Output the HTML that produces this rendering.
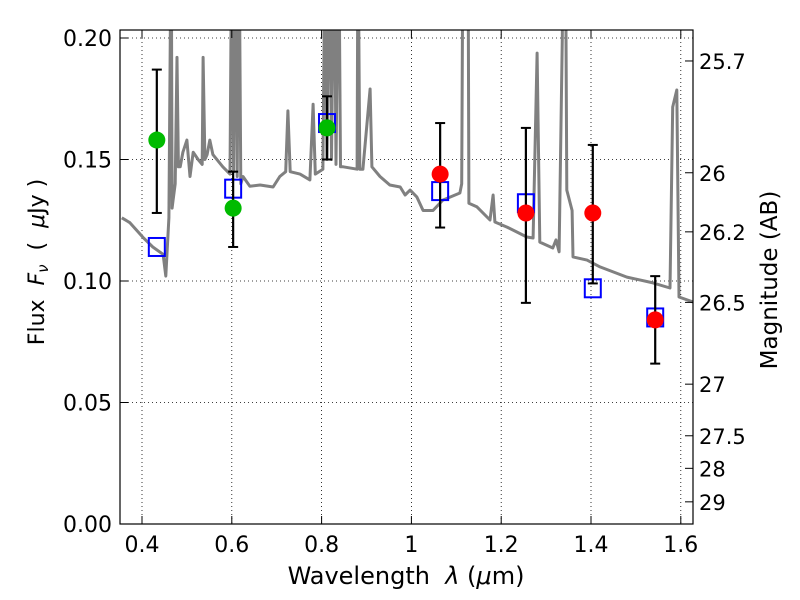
<!DOCTYPE html>
<html><head><meta charset="utf-8"><style>
html,body{margin:0;padding:0;background:#fff;}
svg{display:block;font-family:"DejaVu Sans","Liberation Sans",sans-serif;}
</style></head><body>
<svg id="chart" width="800" height="600" viewBox="0 0 800 600" xmlns="http://www.w3.org/2000/svg">
<defs><clipPath id="clip"><rect x="120" y="30" width="573" height="494"/></clipPath></defs>
<rect x="0" y="0" width="800" height="600" fill="#fff"/>
<g id="grid"></g>
<g id="plot" clip-path="url(#clip)"></g>
<rect x="120" y="30" width="573" height="494" fill="none" stroke="#000" stroke-width="1.2"/>
<g id="axes"></g>
<text x="406" y="584" font-size="24" text-anchor="middle" xml:space="preserve">Wavelength  <tspan font-style="italic">λ</tspan> (<tspan font-style="italic">μ</tspan>m)</text>
<text transform="translate(44,262) rotate(-90)" font-size="22" text-anchor="middle" xml:space="preserve">Flux  <tspan font-style="italic">F</tspan><tspan font-style="italic" font-size="15" dy="4">ν</tspan><tspan dy="-4">  (  </tspan><tspan font-style="italic">μ</tspan>Jy )</text>
<text transform="translate(777,280) rotate(-90)" font-size="23" text-anchor="middle">Magnitude (AB)</text>
</svg>
<script>
const xTicks=[0.4,0.6,0.8,1.0,1.2,1.4,1.6];
const xTickLabels=["0.4","0.6","0.8","1","1.2","1.4","1.6"];
const yTicks=[0,0.05,0.10,0.15,0.20];
const yTickLabels=["0.00","0.05","0.10","0.15","0.20"];
const magTicks=[25.7,26,26.2,26.5,27,27.5,28,29];
const magTickLabels=["25.7","26","26.2","26.5","27","27.5","28","29"];
const specWave=[0.355,0.373,0.402,0.424,0.447,0.453,0.460,0.465,0.467,0.469,0.474,0.478,0.481,0.485,0.491,0.500,0.507,0.514,0.525,0.534,0.536,0.540,0.545,0.551,0.558,0.580,0.596,0.600,0.604,0.608,0.612,0.616,0.62,0.625,0.640,0.663,0.692,0.707,0.72,0.725,0.730,0.752,0.774,0.781,0.786,0.803,0.808,0.812,0.818,0.822,0.828,0.832,0.838,0.842,0.848,0.879,0.881,0.885,0.892,0.908,0.912,0.930,0.952,0.975,0.986,0.997,1.012,1.026,1.048,1.070,1.108,1.112,1.115,1.126,1.128,1.146,1.175,1.182,1.186,1.213,1.257,1.271,1.280,1.286,1.315,1.322,1.329,1.336,1.338,1.343,1.346,1.358,1.360,1.391,1.420,1.480,1.538,1.576,1.582,1.591,1.596,1.627];
const specFlux=[0.126,0.124,0.118,0.114,0.111,0.102,0.126,0.25,0.13,0.133,0.14,0.192,0.147,0.147,0.153,0.158,0.143,0.153,0.150,0.148,0.192,0.150,0.152,0.158,0.152,0.147,0.144,0.25,0.145,0.25,0.143,0.25,0.14,0.143,0.139,0.1395,0.1387,0.143,0.145,0.170,0.145,0.144,0.1416,0.1727,0.144,0.146,0.25,0.15,0.25,0.15,0.25,0.148,0.25,0.147,0.147,0.146,0.25,0.146,0.146,0.179,0.147,0.143,0.1395,0.1387,0.1354,0.1374,0.1346,0.129,0.129,0.1333,0.1362,0.14,0.25,0.25,0.132,0.1305,0.1251,0.1354,0.1243,0.1222,0.1181,0.1177,0.1938,0.116,0.1136,0.1169,0.112,0.20,0.25,0.25,0.1374,0.129,0.1099,0.1086,0.1058,0.1016,0.0992,0.0971,0.1716,0.1786,0.0934,0.0914];
const modelWave=[0.433,0.603,0.812,1.064,1.255,1.404,1.543];
const modelFlux=[0.114,0.138,0.165,0.137,0.132,0.097,0.085];
const optWave=[0.433,0.603,0.812];
const optFlux=[0.158,0.130,0.163];
const optLo=[0.128,0.114,0.150];
const optHi=[0.187,0.145,0.176];
const irWave=[1.064,1.255,1.404,1.543];
const irFlux=[0.144,0.128,0.128,0.084];
const irLo=[0.122,0.091,0.099,0.066];
const irHi=[0.165,0.163,0.156,0.102];

const NS="http://www.w3.org/2000/svg";
const X=v=>142+(v-0.4)*449;
const Y=v=>524-v*2430;
const magToFlux=m=>Math.pow(10,-(m-23.9)/2.5);
function mk(tag,attrs,parent){const e=document.createElementNS(NS,tag);for(const k in attrs)e.setAttribute(k,attrs[k]);parent.appendChild(e);return e;}
const grid=document.getElementById('grid'),plot=document.getElementById('plot'),axes=document.getElementById('axes');

xTicks.forEach((t,i)=>{
  const x=X(t);
  const g=mk('line',{x1:x,x2:x,y1:30,y2:524,stroke:'#000','stroke-width':0.8,'stroke-dasharray':'1,3'},grid);
  
  
  const tk=mk('line',{x1:x,x2:x,y1:524,y2:516,stroke:'#000','stroke-width':1},axes);
  
  
  const tk2=mk('line',{x1:x,x2:x,y1:30,y2:38,stroke:'#000','stroke-width':1},axes);
  
  
  const lb=mk('text',{x:x,y:552,'font-size':22,'text-anchor':'middle'},axes);
  lb.textContent=xTickLabels[i];
  
  
});
yTicks.forEach((t,i)=>{
  const y=Y(t);
  const g=mk('line',{x1:120,x2:693,y1:y,y2:y,stroke:'#000','stroke-width':0.8,'stroke-dasharray':'1,3'},grid);
  
  
  const tk=mk('line',{x1:120,x2:128,y1:y,y2:y,stroke:'#000','stroke-width':1},axes);
  
  
  const lb=mk('text',{x:112,y:y+8,'font-size':22,'text-anchor':'end'},axes);
  lb.textContent=yTickLabels[i];
  
  
});
magTicks.forEach((m,i)=>{
  const y=Y(magToFlux(m));
  const tk=mk('line',{x1:685,x2:693,y1:y,y2:y,stroke:'#000','stroke-width':1},axes);
  
  
  const lb=mk('text',{x:699,y:y+8,'font-size':21,'text-anchor':'start'},axes);
  lb.textContent=magTickLabels[i];
  
  
});

const pts=specWave.map((w,i)=>X(w).toFixed(1)+','+Y(specFlux[i]).toFixed(1)).join(' ');
const sp=mk('polyline',{points:pts,fill:'none',stroke:'#808080','stroke-width':3,'stroke-linejoin':'round'},plot);



modelWave.forEach((w,i)=>{
  const r=mk('rect',{x:X(w)-8,y:Y(modelFlux[i])-9,width:16,height:18,fill:'none',stroke:'#0000ff','stroke-width':2},plot);
  
  
});
function errbar(w,lo,hi){
  const x=X(w);
  const g=mk('g',{},plot);
  
  
  mk('line',{x1:x,x2:x,y1:Y(lo),y2:Y(hi),stroke:'#000','stroke-width':2.2},g);
  mk('line',{x1:x-5,x2:x+5,y1:Y(lo),y2:Y(lo),stroke:'#000','stroke-width':2},g);
  mk('line',{x1:x-5,x2:x+5,y1:Y(hi),y2:Y(hi),stroke:'#000','stroke-width':2},g);
}
optWave.forEach((w,i)=>{
  errbar(w,optLo[i],optHi[i]);
  const c=mk('circle',{cx:X(w),cy:Y(optFlux[i]),r:8.5,fill:'#00bb00'},plot);
  
  
});
irWave.forEach((w,i)=>{
  errbar(w,irLo[i],irHi[i]);
  const c=mk('circle',{cx:X(w),cy:Y(irFlux[i]),r:8.5,fill:'#ff0000'},plot);
  
  
});
</script>
</body></html>
